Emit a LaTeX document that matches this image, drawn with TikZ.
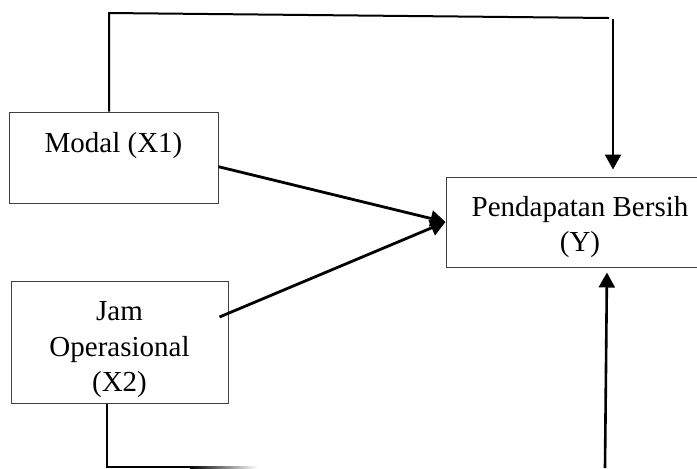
\documentclass[tikz,border=0pt]{standalone}
\usepackage{fontspec}
\setmainfont{Liberation Serif}
\usetikzlibrary{arrows.meta,calc}

\begin{document}
\begin{tikzpicture}[x=0.5pt,y=-0.5pt,
  varbox/.style={draw=black!75,line width=0.5pt,align=center,inner sep=0pt,
    font=\fontsize{14.5}{17.75}\selectfont},
  link/.style={line width=1pt},
  arr/.style={line width=1.3pt,-{Triangle[length=7.5pt,width=8pt]}}]
  \useasboundingbox (0,0) rectangle (697,468);
  % variables
  \node[varbox,minimum width=104.5pt,minimum height=45.5pt,text height=10pt,text depth=15.5pt] (modal) at (113.5,157.5) {Modal (X1)};
  \node[varbox,minimum width=108.5pt,minimum height=61pt,text height=53pt] (opr) at (119.5,342) {Jam\\Operasional\\(X2)};
  \node[varbox,minimum width=134pt,minimum height=45pt,text height=33pt] (pend) at (580,222) {Pendapatan Bersih\\(Y)};
  % direct effects
  \draw[arr,line width=1.4pt] (modal.-5) -- (pend.west);
  \draw[arr,line width=1.4pt] ($(opr.east)+(-9,-25)$) -- (pend.west);
  % top path
  \coordinate (tl) at (109,13);
  \coordinate (tr) at (609,18);
  \coordinate (ta) at (613,19);
  \draw[link] ($(modal.north)+(-4.5,0)$) -- (tl) -- (tr);
  \draw[arr,shorten >=3.5pt] (ta) -- ($(pend.north)+(33,0)$);
  % bottom path, fading out
  \coordinate (bl) at (107,467);
  \coordinate (bf) at (190,467);
  \draw[link] ($(opr.south)+(-12.5,0)$) -- (bl) -- (bf);
  \shade[left color=black,right color=white] (190,466) rectangle (257,468);
  \coordinate (ba) at (605,468);
  \draw[arr,shorten >=2.5pt] (ba) -- ($(pend.south)+(27,0)$);
\end{tikzpicture}
\end{document}
